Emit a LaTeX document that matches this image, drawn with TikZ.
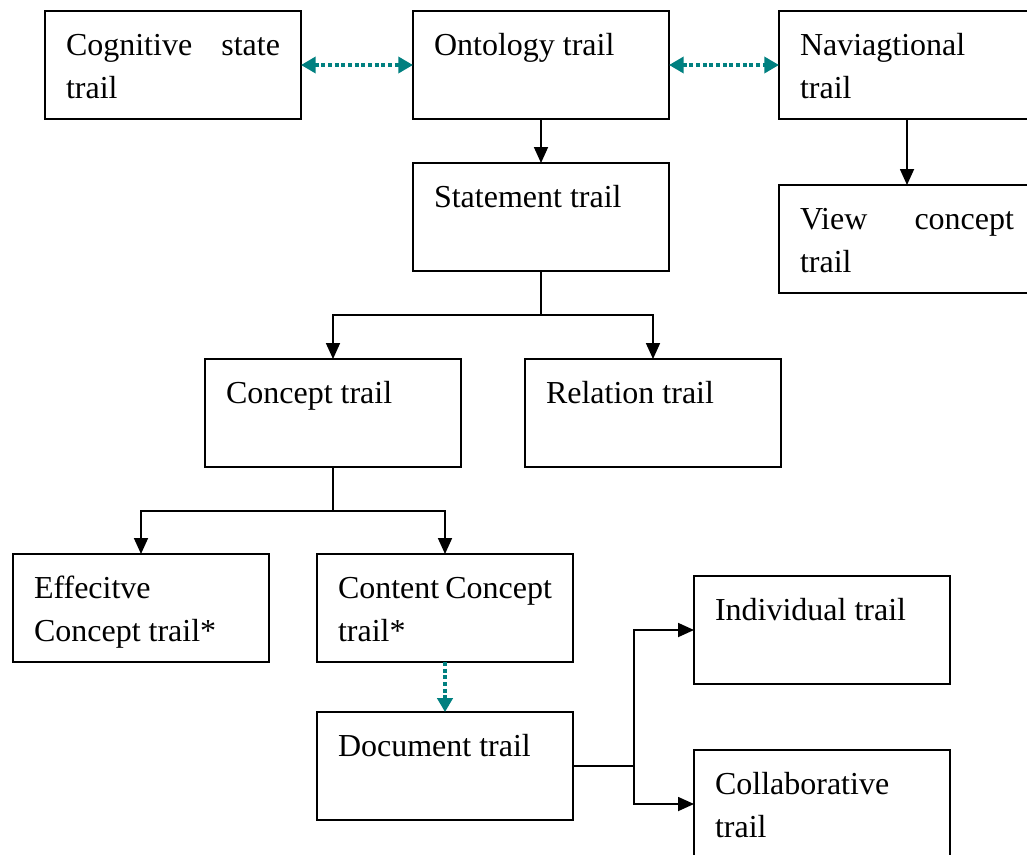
\documentclass[tikz,border=0pt]{standalone}
\usepackage{fontspec}
\setmainfont{Liberation Serif}
\usetikzlibrary{arrows.meta}
\definecolor{trailteal}{RGB}{0,128,128}
% box body: text starts at the top, fixed box height
\newcommand{\trailtext}[1]{\parbox[c][81pt][t]{160.5pt}{\rule{0pt}{33pt}#1}}
\tikzset{
  trail/.style={draw, rectangle, line width=1.3pt, anchor=north west,
    inner xsep=15.75pt, inner ysep=0pt, outer sep=0pt,
    font=\fontsize{24}{32.25}\selectfont},
  plainline/.style={line width=1.3pt},
  link/.style={line width=1.3pt, -{Triangle[length=12pt,width=10.5pt]}},
  tealdots/.style={draw=trailteal, line width=2.6pt, dash pattern=on 3pt off 2pt},
  tealone/.style={tealdots, -{Triangle[length=10.5pt,width=11.5pt]}},
  tealboth/.style={tealdots, {Triangle[length=11pt,width=12pt]}-{Triangle[length=11pt,width=12pt]}}
}
\begin{document}
\begin{tikzpicture}[x=0.75pt,y=-0.75pt]
\useasboundingbox (0,0) rectangle (1027,854);
\clip (0,0) rectangle (1027,854);

% trail boxes
\node[trail] (cog)      at (45,11)   {\trailtext{Cognitive\hfill state\\trail}};
\node[trail] (onto)     at (413,11)  {\trailtext{Ontology trail}};
\node[trail] (nav)      at (779,11)  {\trailtext{Naviagtional\\trail}};
\node[trail] (stmt)     at (413,163) {\trailtext{Statement trail}};
\node[trail] (view)     at (779,185) {\trailtext{View\hfill concept\\trail}};
\node[trail] (concept)  at (205,359) {\trailtext{Concept trail}};
\node[trail] (relation) at (525,359) {\trailtext{Relation trail}};
\node[trail] (eff)      at (13,554)  {\trailtext{Effecitve\\Concept trail*}};
\node[trail] (content)  at (317,554) {\trailtext{Content Concept\\trail*}};
\node[trail] (doc)      at (317,712) {\trailtext{Document trail}};
\node[trail] (indiv)    at (694,576) {\trailtext{Individual trail}};
\node[trail] (collab)   at (694,750) {\trailtext{Collaborative\\trail}};

% dotted two-way links
\draw[tealboth] (cog.east) -- (onto.west);
\draw[tealboth] (onto.east) -- (nav.west);

% straight links
\draw[link] (onto.south) -- (stmt.north);
\draw[link] (nav.south) -- (view.north);

% statement splits into concept and relation
\path (stmt.south) ++(0,44) coordinate (sj);
\draw[plainline] (stmt.south) -- (sj);
\draw[link] (sj) -| (concept.north);
\draw[link] (sj) -| (relation.north);

% concept splits into effective and content concept
\path (concept.south) ++(0,44) coordinate (cj);
\draw[plainline] (concept.south) -- (cj);
\draw[link] (cj) -| (eff.north);
\draw[link] (cj) -| (content.north);

% content concept to document
\draw[tealone] (content.south) -- (doc.north);

% document splits into individual and collaborative
\path (doc.east) ++(61,0) coordinate (dj);
\draw[plainline] (doc.east) -- (dj);
\draw[link] (dj) |- (indiv.west);
\draw[link] (dj) |- (collab.west);
\end{tikzpicture}
\end{document}
